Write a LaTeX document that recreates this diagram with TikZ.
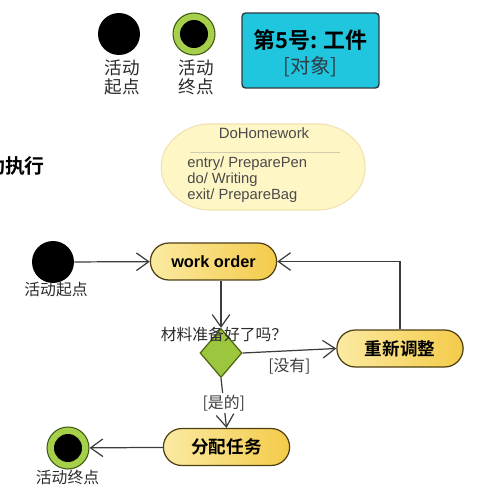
\documentclass[tikz,border=0pt]{standalone}
\usepackage{fontspec}
\setmainfont{Liberation Sans}
\newfontfamily\cjk{Noto Sans CJK SC}[BoldFont={Noto Sans CJK SC Bold}]
\usetikzlibrary{arrows.meta,shapes.geometric,shapes.misc}
\definecolor{textgray}{HTML}{2A2A2A}
\definecolor{linegray}{HTML}{3C3C3C}
\definecolor{ringgreen}{HTML}{A6CF4C}
\definecolor{ringedge}{HTML}{3F5A12}
\definecolor{actlight}{HTML}{FBEAA2}
\definecolor{actdark}{HTML}{F4CB4A}
\definecolor{actedge}{HTML}{4E3F12}
\definecolor{decgreen}{HTML}{9CC63E}
\definecolor{decedge}{HTML}{4C6614}
\definecolor{objcyan}{HTML}{1FC6DE}
\definecolor{objedge}{HTML}{2E3B44}
\definecolor{stfill}{HTML}{FFF6C6}
\definecolor{stedge}{HTML}{F0E2B0}
\begin{document}
\begin{tikzpicture}[
			x=0.02cm, y=-0.02cm,
			>={Straight Barb[length=7pt,width=10pt]},
			every node/.style={align=center, text=textgray},
			startdot/.style={circle, fill=black, minimum size=0.84cm, inner sep=0},
			enddot/.style={circle, draw=ringedge, fill=ringgreen, line width=0.6pt, minimum size=0.84cm, inner sep=0,
				path picture={\fill[black] (path picture bounding box.center) circle (0.28cm);}},
			action/.style={rounded rectangle, draw=actedge, line width=0.7pt, left color=actlight, right color=actdark,
				minimum width=2.76cm, minimum height=0.74cm, text=black, font=\cjk\bfseries\fontsize{10}{12}\selectfont},
			decision/.style={diamond, draw=decedge, fill=decgreen, line width=0.7pt, minimum width=0.84cm, minimum height=0.98cm, inner sep=0},
			objbox/.style={rectangle, rounded corners=2pt, draw=objedge, line width=0.8pt, fill=objcyan, minimum width=2.74cm, minimum height=1.5cm},
			leglbl/.style={font=\cjk\fontsize{10}{10.8}\selectfont},
			lbl/.style={font=\cjk\fontsize{9}{11}\selectfont},
			guard/.style={font=\cjk\fontsize{9}{11}\selectfont, fill=white, inner sep=1pt, text=linegray},
			sttext/.style={font=\fontsize{8.4}{9.1}\selectfont, text=textgray!85, align=left, inner sep=0},
			flow/.style={->, draw=linegray, line width=0.7pt}
		]
			\useasboundingbox (0,0) rectangle (485,500);
			\clip (0,0) rectangle (485,500);

			\node[startdot] (legstart) at (119,34) {};
			\node[leglbl] (legstartlbl) at (122,77) {活动\\起点};
			\node[enddot] (legfinish) at (194,34) {};
			\node[leglbl] (legfinishlbl) at (196,77) {活动\\终点};
			\node[objbox] (obj) at (310.5,50.5) {};
			\node[font=\cjk\bfseries\fontsize{12.5}{14}\selectfont, text=black] (objname) at (310.5,40) {第5号: 工件};
			\node[font=\cjk\fontsize{11.5}{14}\selectfont, text=objedge] (objkind) at (310.5,67) {[对象]};

			\node[font=\cjk\bfseries\fontsize{11.3}{13}\selectfont, text=black, anchor=east] (heading) at (51,166) {活动执行};

			\draw[fill=stfill, draw=stedge, line width=0.6pt, rounded corners=14pt]
				(183,124) -- (345,124) -- (373,167) -- (345,210) -- (183,210) -- (153,167) -- cycle;
			\node[font=\fontsize{8.5}{10}\selectfont, text=textgray!85] (dohw) at (264,133) {DoHomework};
			\draw[stedge!80!black!70, line width=0.5pt] (190,152) -- (340,152);
			\node[sttext, anchor=north west] (dohwbody) at (187,156) {entry/ PreparePen\\do/ Writing\\exit/ PrepareBag};

			\node[startdot] (start) at (53,262) {};
			\node[lbl] (startlbl) at (56,290) {活动起点};
			\node[action, font=\bfseries\fontsize{9.3}{11}\selectfont] (work) at (213.5,261.5) {work order};
			\node[decision] (check) at (221,353) {};
			\node[lbl] (checklbl) at (224,334) {材料准备好了吗？};
			\node[action] (adjust) at (400,348.5) {重新调整};
			\node[action] (assign) at (226.5,447) {分配任务};
			\node[enddot] (finish) at (68,448) {};
			\node[lbl] (finishlbl) at (67.5,477) {活动终点};

			\draw[flow] (start) -- (work);
			\draw[flow] (work.south -| check.north) -- (check.north);
			\draw[flow] (check.east) -- (adjust.west) node[guard, midway, below=3pt] {[没有]};
			\draw[flow] (adjust.north) |- (work.east);
			\draw[flow] (check.south) -- (assign.north) node[guard, midway] {[是的]};
			\draw[flow] (assign) -- (finish);
		\end{tikzpicture}
\end{document}
